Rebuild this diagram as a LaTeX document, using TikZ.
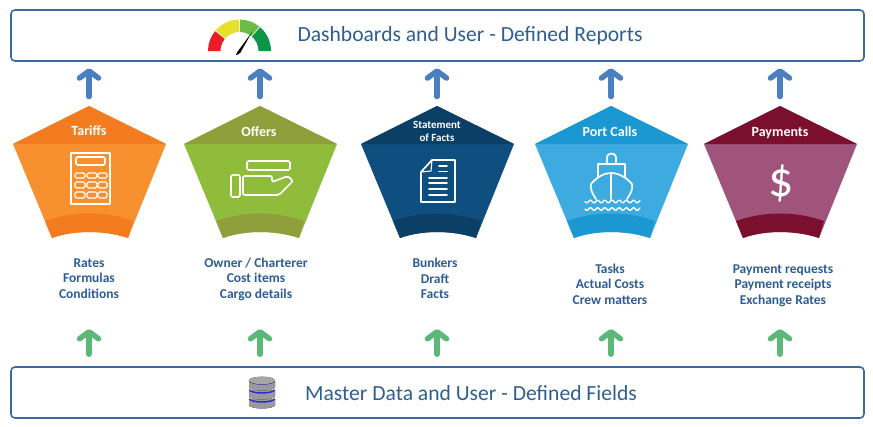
\documentclass[tikz,border=0pt]{standalone}
\usepackage{fontspec}
\setmainfont{Carlito}
\usetikzlibrary{arrows.meta}
\definecolor{barblue}{HTML}{3C6AA0}
\definecolor{textblue}{HTML}{2F5F92}
\definecolor{listblue}{HTML}{2E5C96}
\definecolor{uparrow}{HTML}{4A80C2}
\definecolor{inarrow}{HTML}{5CB878}
\definecolor{orangelight}{HTML}{F7902F}
\definecolor{orangedark}{HTML}{F47B20}
\definecolor{greenlight}{HTML}{8FBC3B}
\definecolor{greendark}{HTML}{8F9F3C}
\definecolor{navylight}{HTML}{0F4F7F}
\definecolor{navydark}{HTML}{0C3F66}
\definecolor{cyanlight}{HTML}{3DAAE0}
\definecolor{cyandark}{HTML}{1B98D2}
\definecolor{plumlight}{HTML}{A0547C}
\definecolor{plumdark}{HTML}{7A0F2E}
\definecolor{gaugered}{HTML}{ED1C24}
\definecolor{gaugeyellow}{HTML}{E6E02C}
\definecolor{gaugelime}{HTML}{6CBB45}
\definecolor{gaugegreen}{HTML}{0E9548}
\tikzset{
  bar/.style={draw=barblue, line width=1.6pt, rounded corners=4pt, fill=white, minimum width=853pt, minimum height=51pt},
  bartext/.style={text=textblue, font=\fontsize{21.6}{26}\selectfont},
  title/.style={text=white, align=center, font=\fontsize{14}{16}\selectfont\bfseries},
  list/.style={text=listblue, align=center, font=\fontsize{13.5}{15.5}\selectfont\bfseries},
  outarrow/.style={draw=uparrow, line width=5.5pt, line cap=round, -{Straight Barb[round,length=7pt,width=19pt]}},
  feedarrow/.style={draw=inarrow, line width=5.5pt, line cap=round, -{Straight Barb[round,length=7pt,width=19pt]}},
  icon/.style={draw=white, line width=1.7pt, line join=round, line cap=round}
}
% one pentagon, measured from its apex
\newcommand{\pentshape}[3]{
  \begin{scope}[shift={(#1,106)}]
    \fill[#2] (0,0) -- (77,38) -- (39,132) .. controls (15,124) and (-15,124) .. (-37,132) -- (-76,38) -- cycle;
    \fill[#3] (0,0) -- (77,38) -- (-76,38) -- cycle;
    \fill[#3] (44,115) -- (39,132) .. controls (15,124) and (-15,124) .. (-37,132) -- (-44,115) .. controls (-15,105) and (15,105) .. cycle;
  \end{scope}
}
\newcommand{\gaugeseg}[3]{
  \fill[#3] (-#1:31.5) arc[start angle=-#1, end angle=-#2, radius=31.5] -- (-#2:19) arc[start angle=-#2, end angle=-#1, radius=19] -- cycle;
}
\begin{document}
\begin{tikzpicture}[x=1pt,y=-1pt]
  \useasboundingbox (0,0) rectangle (873,426);

  % bars
  \node[bar] (dash) at (437.5,35.5) {};
  \node[bar] (master) at (437.5,392.5) {};
  \node[bartext] (dashtext) at (470,36) {Dashboards and User - Defined Reports};
  \node[bartext] (mastertext) at (471,393) {Master Data and User - Defined Fields};

  % pentagons
  \pentshape{89}{orangelight}{orangedark}
  \pentshape{260}{greenlight}{greendark}
  \pentshape{437}{navylight}{navydark}
  \pentshape{611}{cyanlight}{cyandark}
  \pentshape{780}{plumlight}{plumdark}

  % apexes and arrow ends
  \coordinate (tariffs) at (89,106);
  \coordinate (offers) at (260,106);
  \coordinate (facts) at (437,106);
  \coordinate (calls) at (611,106);
  \coordinate (payments) at (780,106);

  % titles
  \node[title] (tariffstitle) at (89,130.5) {Tariffs};
  \node[title] (offerstitle) at (259,132) {Offers};
  \node[title, font=\fontsize{11}{13}\selectfont\bfseries] (factstitle) at (437,131) {Statement\\of Facts};
  \node[title] (callstitle) at (610,132) {Port Calls};
  \node[title] (paymentstitle) at (780,133) {Payments};

  % lists
  \node[list] (tarifflist) at (89,278.5) {Rates\\Formulas\\Conditions};
  \node[list] (offerlist) at (256,279) {Owner / Charterer\\Cost items\\Cargo details};
  \node[list] (factlist) at (435,278.5) {Bunkers\\Draft\\Facts};
  \node[list] (calllist) at (610,284) {Tasks\\Actual Costs\\Crew matters};
  \node[list] (paylist) at (783,285.5) {Payment requests\\Payment receipts\\Exchange Rates};

  % arrows up to the dashboards
  \draw[outarrow, shorten <=9.5pt, shorten >=6.5pt] (tariffs) -- (tariffs |- dash.south);
  \draw[outarrow, shorten <=9.5pt, shorten >=6.5pt] (offers) -- (offers |- dash.south);
  \draw[outarrow, shorten <=9.5pt, shorten >=6.5pt] (facts) -- (facts |- dash.south);
  \draw[outarrow, shorten <=9.5pt, shorten >=6.5pt] (calls) -- (calls |- dash.south);
  \draw[outarrow, shorten <=9.5pt, shorten >=6.5pt] (payments) -- (payments |- dash.south);

  % arrows up from the master data
  \coordinate (tariffsin) at (89,329);
  \coordinate (offersin) at (260,329);
  \coordinate (factsin) at (437,329);
  \coordinate (callsin) at (611,329);
  \coordinate (paymentsin) at (780,329);
  \draw[feedarrow, shorten <=12pt] (tariffsin |- master.north) -- (tariffsin);
  \draw[feedarrow, shorten <=12pt] (offersin |- master.north) -- (offersin);
  \draw[feedarrow, shorten <=12pt] (factsin |- master.north) -- (factsin);
  \draw[feedarrow, shorten <=12pt] (callsin |- master.north) -- (callsin);
  \draw[feedarrow, shorten <=12pt] (paymentsin |- master.north) -- (paymentsin);

  % calculator
  \draw[icon] (71,153) rectangle (110,204);
  \draw[icon, rounded corners=1.5pt] (76,157) rectangle (105,165);
  \foreach \xa/\xb in {75/85,87/97,98/107}
    \foreach \ya/\yb in {173/178,182/188,192/198}
      \draw[icon, line width=1.3pt, rounded corners=1.5pt] (\xa,\ya) rectangle (\xb,\yb);

  % hand
  \draw[icon, rounded corners=1.5pt] (247,161) rectangle (290,170);
  \draw[icon, rounded corners=1.5pt] (231,175) rectangle (240,197);
  \draw[icon, rounded corners=2pt] (243,176) -- (272,176) -- (272,182) -- (288,176) -- (293,181) -- (279,195) -- (243,195) -- cycle;

  % document
  \draw[icon] (432,160) -- (455,160) -- (455,202) -- (421,202) -- (421,172) -- cycle;
  \draw[icon, line width=1.1pt] (432,160) -- (431,171) -- (421,172);
  \foreach \y in {166,171.5}
    \draw[icon] (439,\y) -- (447,\y);
  \foreach \y in {178,183,189,195}
    \draw[icon] (429,\y) -- (447,\y);

  % ship
  \draw[icon] (607,164) -- (607,157) arc[start angle=180, end angle=360, x radius=4.5, y radius=3.5] -- (616,164);
  \draw[icon] (598,177) -- (598,164) -- (625,164) -- (625,177);
  \draw[icon] (596,199) .. controls (592,193) and (590,189) .. (591,184) .. controls (597,177) and (604,173) .. (611,173) .. controls (618,173) and (626,177) .. (632,184) .. controls (633,189) and (631,193) .. (627,199);
  \draw[icon] (611,173) -- (611,199);
  \draw[icon, line width=1.4pt] plot[domain=0:55, samples=80] (585+\x,{201.5+1.3*sin(\x*50)});
  \draw[icon, line width=1.4pt] plot[domain=0:55, samples=80] (585+\x,{209+1.3*sin(\x*50)});

  % dollar
  \node[text=white, font=\fontsize{50}{54}\selectfont] (dollar) at (781,183) {\$};

  % gauge
  \begin{scope}[shift={(239.5,51)}]
    \gaugeseg{180}{141}{gaugered}
    \gaugeseg{139}{91}{gaugeyellow}
    \gaugeseg{89}{51}{gaugelime}
    \gaugeseg{49}{0}{gaugegreen}
    \fill[black] (12.5,-19) -- (-2.5,1.5) -- (-3.5,4) -- (-1.5,3.5) -- (1,1.5) -- cycle;
  \end{scope}

  % database
  \foreach \y in {399,390,381}{
    \fill[left color=gray!80, middle color=gray!15, right color=gray!80] (249,\y) -- (249,\y+6) arc[start angle=180, end angle=0, x radius=13, y radius=3.5] -- (275,\y) -- cycle;
    \draw[blue!70!gray, line width=1.4pt] (249.5,\y-0.5) arc[start angle=180, end angle=0, x radius=12.5, y radius=3.5];
  }
  \fill[left color=gray!70, middle color=gray!10, right color=gray!70] (262,380.5) ellipse[x radius=13, y radius=3.8];

\end{tikzpicture}
\end{document}
